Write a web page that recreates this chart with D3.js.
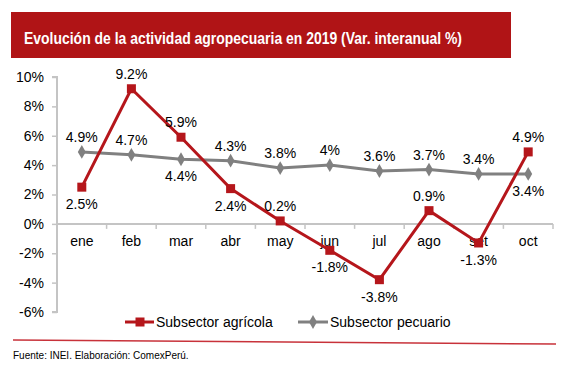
<!DOCTYPE html>
<html><head><meta charset="utf-8">
<script src="https://cdn.jsdelivr.net/npm/d3@7"></script>
<style>body{margin:0;background:#fff}svg{display:block;font-family:"Liberation Sans",Arial,sans-serif}</style>
</head><body>
<svg id="c" width="566" height="368"></svg>
<script>
const months = ["ene","feb","mar","abr","may","jun","jul","ago","set","oct"];
const agricola = [2.5, 9.2, 5.9, 2.4, 0.2, -1.8, -3.8, 0.9, -1.3, 4.9];
const pecuario = [4.9, 4.7, 4.4, 4.3, 3.8, 4.0, 3.6, 3.7, 3.4, 3.4];
const agriLabels = ["2.5%","9.2%","5.9%","2.4%","0.2%","-1.8%","-3.8%","0.9%","-1.3%","4.9%"];
const pecuLabels = ["4.9%","4.7%","4.4%","4.3%","3.8%","4%","3.6%","3.7%","3.4%","3.4%"];
const agriPos = ["below","above","above","below","above","below","below","above","below","above"];
const pecuPos = ["above","above","below","above","above","above","above","above","above","below"];
const yTicks = [-6,-4,-2,0,2,4,6,8,10];
const seriesNames = ["Subsector agrícola","Subsector pecuario"];

const svg = d3.select("#c");
const RED = "#B5161B", GREY = "#808080", AX = "#c4c4c4", FS = 14;

// banner
svg.append("rect").attr("x",11).attr("y",12).attr("width",500).attr("height",46).attr("fill","#B01416");
svg.append("text").attr("x",24).attr("y",44).attr("fill","#fff").attr("font-weight","bold")
  .attr("font-size",17).attr("textLength",438).attr("lengthAdjust","spacingAndGlyphs")
  .text("Evolución de la actividad agropecuaria en 2019 (Var. interanual %)");

const x = d3.scaleBand().domain(months).range([57,553]);
const y = d3.scaleLinear().domain([-6,10]).range([312,77]);
const cx = d => x(d) + x.bandwidth()/2;

// y axis
const ya = svg.append("g").attr("transform","translate(57,0)")
  .call(d3.axisLeft(y).tickValues(yTicks).tickFormat(d=>d+"%").tickSize(5).tickPadding(8));
ya.select(".domain").attr("stroke",AX).attr("stroke-width",2).attr("d","M-5,"+y(-6)+"H0V"+y(10)+"H-5");
ya.selectAll(".tick line").attr("stroke",AX).attr("stroke-width",1.5);
ya.selectAll(".tick text").attr("font-size",FS).attr("fill","#000").attr("font-family","Liberation Sans, Arial, sans-serif");

// x axis at 0
const xa = svg.append("g").attr("transform","translate(0,"+y(0)+")")
  .call(d3.axisBottom(x).tickSize(0).tickPadding(12));
xa.select(".domain").attr("stroke",AX).attr("stroke-width",2).attr("d","M57,0H553");
xa.selectAll(".tick text").attr("font-size",FS).attr("fill","#000").attr("font-family","Liberation Sans, Arial, sans-serif");
xa.selectAll(".bnd").data(months.slice(1).concat(["_end"])).enter().append("line").attr("class","bnd")
  .attr("x1",(d,i)=>57+(i+1)*x.bandwidth()).attr("x2",(d,i)=>57+(i+1)*x.bandwidth())
  .attr("y1",0).attr("y2",5).attr("stroke",AX).attr("stroke-width",1.5);

const line = d3.line().x((d,i)=>cx(months[i])).y(d=>y(d));

// pecuario
svg.append("path").datum(pecuario).attr("d",line).attr("fill","none").attr("stroke",GREY).attr("stroke-width",3);
const dia = d3.symbol().type(d3.symbolDiamond).size(55);
svg.selectAll(".pm").data(pecuario).enter().append("path")
  .attr("transform",(d,i)=>`translate(${cx(months[i])},${y(d)})`).attr("d",dia).attr("fill",GREY);

// agricola
svg.append("path").datum(agricola).attr("d",line).attr("fill","none").attr("stroke",RED).attr("stroke-width",3);
svg.selectAll(".am").data(agricola).enter().append("rect")
  .attr("x",(d,i)=>cx(months[i])-4.5).attr("y",d=>y(d)-4.5).attr("width",9).attr("height",9).attr("fill",RED);

// labels
const lbl = (vals, labels, pos) => {
  svg.append("g").selectAll("text").data(vals).enter().append("text")
    .attr("x",(d,i)=>cx(months[i])).attr("y",(d,i)=>y(d) + (pos[i]==="above" ? -10 : 22))
    .attr("text-anchor","middle").attr("font-size",FS).attr("fill","#000")
    .text((d,i)=>labels[i]);
};
lbl(agricola, agriLabels, agriPos);
lbl(pecuario, pecuLabels, pecuPos);

// legend
const lg = svg.append("g");
lg.append("line").attr("x1",125).attr("x2",154).attr("y1",322).attr("y2",322).attr("stroke",RED).attr("stroke-width",3);
lg.append("rect").attr("x",135.5).attr("y",317.5).attr("width",9).attr("height",9).attr("fill",RED);
lg.append("text").attr("x",156).attr("y",327).attr("font-size",FS).text(seriesNames[0]);
lg.append("line").attr("x1",298).attr("x2",328).attr("y1",322).attr("y2",322).attr("stroke",GREY).attr("stroke-width",3);
lg.append("path").attr("transform","translate(313,322)").attr("d",dia).attr("fill",GREY);
lg.append("text").attr("x",330).attr("y",327).attr("font-size",FS).text(seriesNames[1]);

// bottom rule and footer
svg.append("line").attr("x1",13).attr("y1",340).attr("x2",556).attr("y2",344).attr("stroke","#C8323A").attr("stroke-width",1.5);
svg.append("text").attr("x",13).attr("y",359).attr("font-size",10).attr("fill","#000").text("Fuente: INEI. Elaboración: ComexPerú.");
</script>
</body></html>
